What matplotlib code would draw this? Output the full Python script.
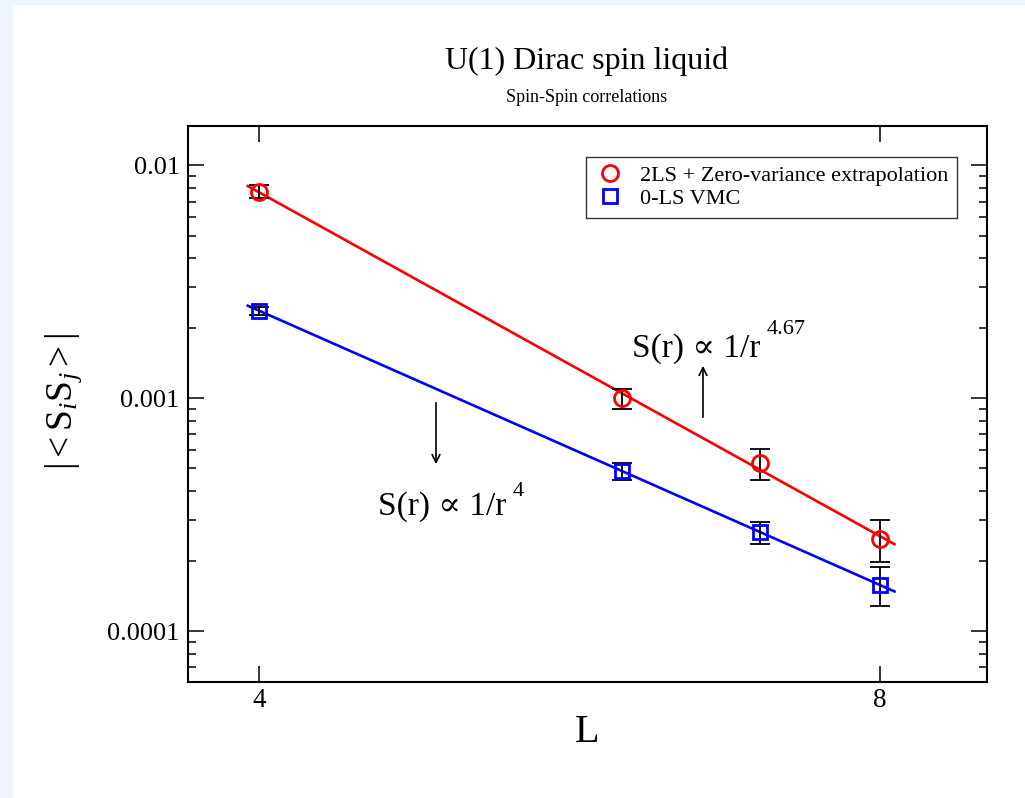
import numpy as np
import matplotlib
matplotlib.use("Agg")
import matplotlib.pyplot as plt
from matplotlib.patches import Rectangle
from matplotlib.ticker import FixedLocator, FixedFormatter, LogLocator, NullLocator, NullFormatter

# ---------------- data ----------------
L_values = [4, 6, 7, 8]
zv_values = [7.72e-3, 1.0e-3, 5.27e-4, 2.486e-4]      # 2LS + zero-variance extrapolation
zv_errors = [5.0e-4, 1.0e-4, 8.0e-5, 5.0e-5]
vmc_values = [2.377e-3, 4.87e-4, 2.655e-4, 1.576e-4]   # 0-LS VMC
vmc_errors = [1.0e-4, 4.0e-5, 2.9e-5, 3.0e-5]
fit_L_range = [3.95, 8.13]

series_labels = ["2LS + Zero-variance extrapolation", "0-LS VMC"]
x_ticks = [4, 8]
x_tick_labels = ["4", "8"]
y_ticks = [0.0001, 0.001, 0.01]
y_tick_labels = ["0.0001", "0.001", "0.01"]
title = "U(1) Dirac spin liquid"
subtitle = "Spin-Spin correlations"
annot_hi = ("S(r) \u221d 1/r", "4.67")
annot_lo = ("S(r) \u221d 1/r", "4")

# ---------------- style ----------------
SERIF = ["Liberation Serif", "DejaVu Serif"]
plt.rcParams["font.family"] = SERIF
plt.rcParams["mathtext.fontset"] = "custom"
plt.rcParams["mathtext.rm"] = "Liberation Serif"
plt.rcParams["mathtext.it"] = "Liberation Serif:italic"

W, H = 1025, 798
fig = plt.figure(figsize=(W / 100, H / 100), dpi=100)
fig.patch.set_facecolor("#eef5fc")
fig.add_artist(Rectangle((13 / W, 0), 1 - 13 / W, 1 - 5 / H, transform=fig.transFigure,
                         facecolor="white", edgecolor="none", zorder=-10))


def fx(px):
    return px / W


def fy(py):
    return 1 - py / H


ax = fig.add_axes([fx(188), fy(682), (987 - 188) / W, (682 - 126) / H])
ax.set_xscale("log")
ax.set_yscale("log")
ax.set_xlim(3.695, 9.015)
ax.set_ylim(6.04e-5, 1.478e-2)

# fit lines (least squares in log-log)
xs = np.linspace(fit_L_range[0], fit_L_range[1], 50)
for vals, color in [(zv_values, "red"), (vmc_values, "blue")]:
    p = np.polyfit(np.log10(L_values), np.log10(vals), 1)
    ax.plot(xs, 10 ** np.polyval(p, np.log10(xs)), color=color, lw=1.9, zorder=2)

ax.errorbar(L_values, zv_values, yerr=zv_errors, fmt="none", ecolor="black",
            elinewidth=1.3, capsize=7, capthick=1.3, zorder=3)
ax.errorbar(L_values, vmc_values, yerr=vmc_errors, fmt="none", ecolor="black",
            elinewidth=1.3, capsize=7, capthick=1.3, zorder=3)
ax.plot(L_values, zv_values, linestyle="none", marker="o", markersize=11.5,
        markerfacecolor="none", markeredgecolor="red", markeredgewidth=2.0,
        label=series_labels[0], zorder=4)
ax.plot(L_values, vmc_values, linestyle="none", marker="s", markersize=10.5,
        markerfacecolor="none", markeredgecolor="blue", markeredgewidth=2.0,
        label=series_labels[1], zorder=4)

# ticks
ax.xaxis.set_major_locator(FixedLocator(x_ticks))
ax.xaxis.set_major_formatter(FixedFormatter(x_tick_labels))
ax.xaxis.set_minor_locator(NullLocator())
ax.xaxis.set_minor_formatter(NullFormatter())
ax.yaxis.set_major_locator(FixedLocator(y_ticks))
ax.yaxis.set_major_formatter(FixedFormatter(y_tick_labels))
ax.yaxis.set_minor_locator(LogLocator(base=10, subs=np.arange(2, 10), numticks=20))
ax.yaxis.set_minor_formatter(NullFormatter())
ax.tick_params(which="both", direction="in", top=True, right=True, width=1.1, color="black")
ax.tick_params(which="major", length=11.5)
ax.tick_params(which="minor", length=5.8)
ax.tick_params(axis="y", labelsize=19, pad=6)
ax.tick_params(axis="x", labelsize=19.5, pad=4)
for s in ax.spines.values():
    s.set_linewidth(1.5)

# legend
leg = ax.legend(loc="upper right", bbox_to_anchor=((957 - 188) / 799, (682 - 157) / 556),
                borderaxespad=0, fontsize=16, frameon=True, fancybox=False,
                edgecolor="black", handlelength=1.35, handletextpad=0.7,
                labelspacing=0.12, borderpad=0.38, numpoints=1)
leg.get_frame().set_linewidth(1.0)

# titles & labels
fig.text(fx(587), fy(61), title, ha="center", va="center", fontsize=23)
fig.text(fx(587), fy(97), subtitle, ha="center", va="center", fontsize=13)
fig.text(fx(587), fy(732), "L", ha="center", va="center", fontsize=29)
fig.text(fx(64), fy(402), r"$|<\mathrm{S}_i\mathrm{S}_j>|$", ha="center", va="center",
         rotation=90, fontsize=27)

# annotations
fig.text(fx(632), fy(357), annot_hi[0], ha="left", va="baseline", fontsize=24,
         family=["Liberation Serif", "DejaVu Serif"])
fig.text(fx(767), fy(334), annot_hi[1], ha="left", va="baseline", fontsize=16)
fig.text(fx(378), fy(515), annot_lo[0], ha="left", va="baseline", fontsize=24,
         family=["Liberation Serif", "DejaVu Serif"])
fig.text(fx(513), fy(496), annot_lo[1], ha="left", va="baseline", fontsize=16)

arrow = dict(arrowstyle="->", lw=1.2, color="black", mutation_scale=14)
ax.annotate("", xy=(fx(703), fy(363)), xytext=(fx(703), fy(420)),
            xycoords="figure fraction", textcoords="figure fraction", arrowprops=arrow)
ax.annotate("", xy=(fx(436), fy(467)), xytext=(fx(436), fy(400)),
            xycoords="figure fraction", textcoords="figure fraction", arrowprops=arrow)

fig.savefig("out.png", dpi=100, facecolor=fig.get_facecolor())
